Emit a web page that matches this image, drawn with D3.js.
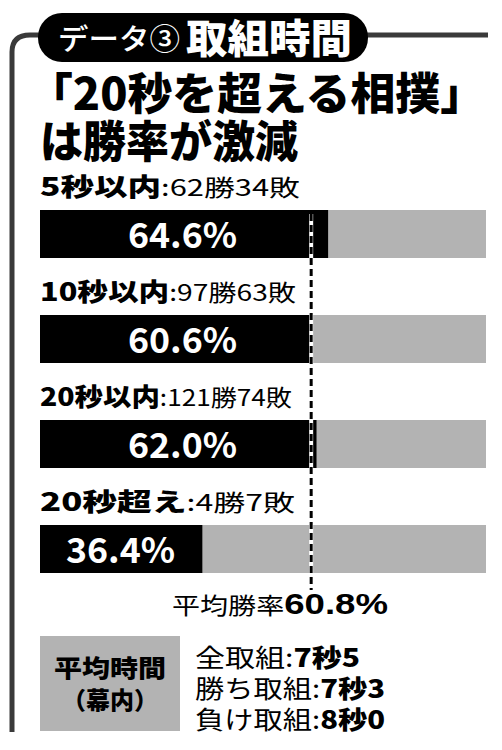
<!DOCTYPE html>
<html><head><meta charset="utf-8">
<script src="https://cdn.jsdelivr.net/npm/d3@7"></script>
<style>body{margin:0;background:#fff}text{font-family:"Noto Sans CJK JP",sans-serif}</style>
</head><body><svg id="c" width="502" height="750"></svg>
<script>
const categories = ['5秒以内', '10秒以内', '20秒以内', '20秒超え']
const records = [':62勝34敗', ':97勝63敗', ':121勝74敗', ':4勝7敗']
const labelWidths = [260, 256, 252, 255]
const rates = [64.6, 60.6, 62.0, 36.4]
const average = 60.8
const avgTimes = [['全取組:', '7秒5'], ['勝ち取組:', '7秒3'], ['負け取組:', '8秒0']]
const avgWidths = [165, 190, 190]

const svg = d3.select('#c')
const x = d3.scaleLinear().domain([0, 100]).range([40, 486])
const barTop = [210, 315, 420, 525]
const barH = 48
const fit = (sel, w) => sel.attr('textLength', w).attr('lengthAdjust', 'spacingAndGlyphs')

// frame
svg.append('path').attr('d', 'M12,732 V52 Q12,35 30,35 H45')
  .attr('fill', 'none').attr('stroke', '#3a3a3a').attr('stroke-width', 5)
svg.append('line').attr('x1', 360).attr('x2', 488).attr('y1', 35).attr('y2', 35)
  .attr('stroke', '#3a3a3a').attr('stroke-width', 5)
svg.append('rect').attr('x', 38).attr('y', 13).attr('width', 330).attr('height', 49)
  .attr('rx', 24).attr('fill', '#000')
fit(svg.append('text').attr('x', 58).attr('y', 50).attr('fill', '#fff')
  .attr('font-size', 29).attr('font-weight', 500).text('データ③'), 122)
fit(svg.append('text').attr('x', 186).attr('y', 53).attr('fill', '#fff')
  .attr('font-size', 40).attr('font-weight', 900).text('取組時間'), 166)

fit(svg.append('text').attr('x', 28).attr('y', 110).attr('font-size', 44).attr('font-weight', 900)
  .text('「20秒を超える相撲」'), 457)
fit(svg.append('text').attr('x', 40).attr('y', 158).attr('font-size', 44).attr('font-weight', 900)
  .text('は勝率が激減'), 258)

categories.forEach((c, i) => {
  const t = svg.append('text').attr('x', 40).attr('y', barTop[i] - 14)
  t.append('tspan').attr('font-size', 25).attr('font-weight', 900).text(c)
  t.append('tspan').attr('font-size', 23).attr('font-weight', 400).text(records[i])
  fit(t, labelWidths[i])
})

const g = svg.append('g')
g.selectAll('rect.bg').data(rates).join('rect').attr('class', 'bg')
  .attr('x', x(0)).attr('width', x(100) - x(0))
  .attr('y', (d, i) => barTop[i]).attr('height', barH).attr('fill', '#b3b3b3')
g.selectAll('rect.fg').data(rates).join('rect').attr('class', 'fg')
  .attr('x', x(0)).attr('width', d => x(d) - x(0))
  .attr('y', (d, i) => barTop[i]).attr('height', barH).attr('fill', '#000')
g.selectAll('text').data(rates).join('text')
  .attr('x', (d, i) => i === 3 ? 66 : 128).attr('y', (d, i) => barTop[i] + 38)
  .attr('fill', '#fff').attr('font-size', 35).attr('font-weight', 700)
  .attr('font-family', '"Liberation Sans", Arial, sans-serif')
  .attr('textLength', 109).attr('lengthAdjust', 'spacingAndGlyphs')
  .text(d => d.toFixed(1) + '%')

// average line
svg.append('line').attr('x1', x(average)).attr('x2', x(average)).attr('y1', 214).attr('y2', 590)
  .attr('stroke', '#fff').attr('stroke-width', 4)
svg.append('line').attr('x1', x(average)).attr('x2', x(average)).attr('y1', 214).attr('y2', 590)
  .attr('stroke', '#000').attr('stroke-width', 3).attr('stroke-dasharray', '7,4')

const at = svg.append('text').attr('x', 172).attr('y', 614)
at.append('tspan').attr('font-size', 23).text('平均勝率')
at.append('tspan').attr('font-size', 30).attr('font-weight', 700)
  .attr('font-family', '"Liberation Sans", Arial, sans-serif').text(average.toFixed(1) + '%')
fit(at, 216)

svg.append('rect').attr('x', 40).attr('y', 636).attr('width', 140).attr('height', 95).attr('fill', '#b3b3b3')
fit(svg.append('text').attr('x', 54).attr('y', 677)
  .attr('font-size', 24).attr('font-weight', 900).text('平均時間'), 112)
fit(svg.append('text').attr('x', 62).attr('y', 709)
  .attr('font-size', 24).attr('font-weight', 900).text('（幕内）'), 96)

avgTimes.forEach((a, i) => {
  const t = svg.append('text').attr('x', 195).attr('y', 667 + i * 31).attr('font-size', 25)
  t.append('tspan').text(a[0])
  t.append('tspan').attr('font-weight', 900).text(a[1])
  fit(t, avgWidths[i])
})
</script></body></html>
